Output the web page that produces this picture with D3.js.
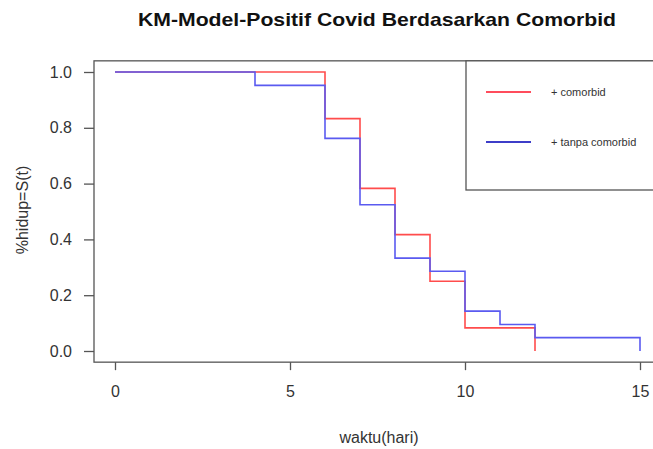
<!DOCTYPE html>
<html>
<head>
<meta charset="utf-8">
<script src="https://cdn.jsdelivr.net/npm/d3@7"></script>
<style>
  body { margin: 0; background: #fff; }
  text { font-family: "Liberation Sans", Arial, sans-serif; fill: #333; }
</style>
</head>
<body>
<svg id="chart" width="653" height="449"></svg>
<script>
// data
var timesComorbid = [0, 6, 7, 8, 9, 10, 12];
var survComorbid = [1.0, 0.833, 0.583, 0.417, 0.25, 0.083, 0];
var timesTanpa = [0, 4, 6, 7, 8, 9, 10, 11, 12, 15];
var survTanpa = [1.0, 0.952, 0.762, 0.524, 0.333, 0.286, 0.143, 0.095, 0.048, 0];
var xTicks = [0, 5, 10, 15];
var yTicks = [0, 0.2, 0.4, 0.6, 0.8, 1.0];
var legendLabels = ["+ comorbid", "+ tanpa comorbid"];

var svg = d3.select("#chart");

var x = d3.scaleLinear().domain([0, 15]).range([115, 640]);
var y = d3.scaleLinear().domain([0, 1]).range([351, 72]);

// plot region, with R's 4% padding
var plotLeft = x(-0.6), plotRight = x(15.6), plotTop = y(1.04), plotBottom = y(-0.04);

// title
svg.append("text")
    .attr("x", 377)
    .attr("y", 26)
    .attr("text-anchor", "middle")
    .style("font-size", "19px")
    .style("font-weight", "bold")
    .style("fill", "#111")
    .attr("textLength", 478)
    .attr("lengthAdjust", "spacingAndGlyphs")
    .text("KM-Model-Positif Covid Berdasarkan Comorbid");

// axes
var xAxis = svg.append("g")
    .attr("transform", "translate(0," + plotBottom + ")")
    .call(d3.axisBottom(x).tickValues(xTicks).tickSize(8).tickPadding(15).tickFormat(d3.format("d")));
var yAxis = svg.append("g")
    .attr("transform", "translate(" + plotLeft + ",0)")
    .call(d3.axisLeft(y).tickValues(yTicks).tickSize(10).tickPadding(12).tickFormat(d3.format(".1f")));

[xAxis, yAxis].forEach(function(g) {
    g.select(".domain").remove();
    g.selectAll("line").attr("stroke", "#555").attr("stroke-width", 1.3);
    g.selectAll("text")
        .style("font-size", "16px")
        .style("font-family", "'Liberation Sans', Arial, sans-serif")
        .attr("fill", "#333");
});

// axis titles
svg.append("text")
    .attr("x", 379)
    .attr("y", 443)
    .attr("text-anchor", "middle")
    .style("font-size", "16px")
    .text("waktu(hari)");
svg.append("text")
    .attr("transform", "translate(28,210) rotate(-90)")
    .attr("text-anchor", "middle")
    .style("font-size", "16px")
    .text("%hidup=S(t)");

// survival curves
var line = d3.line()
    .x(function(d) { return x(d[0]); })
    .y(function(d) { return y(d[1]); })
    .curve(d3.curveStepAfter);

svg.append("path")
    .datum(d3.zip(timesComorbid, survComorbid))
    .attr("fill", "none")
    .attr("stroke", "#ff4c4c")
    .attr("stroke-width", 1.6)
    .attr("d", line);

svg.append("path")
    .datum(d3.zip(timesTanpa, survTanpa))
    .attr("fill", "none")
    .attr("stroke", "#5a5af0")
    .attr("stroke-width", 1.6)
    .attr("d", line);

// plot frame
svg.append("rect")
    .attr("x", plotLeft)
    .attr("y", plotTop)
    .attr("width", plotRight - plotLeft)
    .attr("height", plotBottom - plotTop)
    .attr("fill", "none")
    .attr("stroke", "#555")
    .attr("stroke-width", 1.3);

// legend box at top right
var legend = svg.append("g");
legend.append("rect")
    .attr("x", 466)
    .attr("y", plotTop)
    .attr("width", plotRight - 466)
    .attr("height", 190 - plotTop)
    .attr("fill", "#fff")
    .attr("stroke", "#555")
    .attr("stroke-width", 1.3);

var legendColors = ["#ff4c5c", "#3d3dc8"];
legendLabels.forEach(function(label, i) {
    var ly = 92 + i * 50;
    legend.append("line")
        .attr("x1", 486).attr("x2", 531)
        .attr("y1", ly).attr("y2", ly)
        .attr("stroke", legendColors[i])
        .attr("stroke-width", 2.2);
    legend.append("text")
        .attr("x", 551)
        .attr("y", ly + 3.5)
        .style("font-size", "11px")
        .text(label);
});
</script>
</body>
</html>
